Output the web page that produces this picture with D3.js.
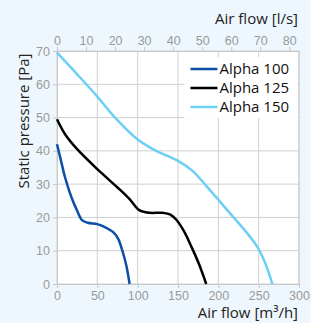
<!DOCTYPE html>
<html>
<head>
<meta charset="utf-8">
<script src="https://cdn.jsdelivr.net/npm/d3@7"></script>
<style>
  body { margin: 0; background: #eef7fd; }
  svg { display: block; font-family: "Open Sans", "Noto Sans", sans-serif; }
</style>
</head>
<body>
<div id="chart"></div>
<script>
// series names and colours
var seriesNames = ["Alpha 100", "Alpha 125", "Alpha 150"];
var seriesColors = ["#0d4ea6", "#000000", "#6dcff6"];

// [air flow m3/h, static pressure Pa]
var alpha100 = [[0,42],[5,37],[10,32],[18,26],[25,22],[31,19.2],[38,18.4],[50,18],[60,17],[70,15.5],[76,13.5],[81,10],[86,5.5],[90,0]];
var alpha125 = [[0,49.5],[10,45],[25,40.5],[50,34.5],[75,29],[90,25.5],[102,22.2],[115,21.4],[130,21.4],[141,20.8],[148,19.3],[157,16],[167,11],[176,6],[185,0]];
var alpha150 = [[0,69.5],[25,63],[50,56.3],[70,50.5],[100,43.4],[123,40],[150,37],[168,34],[185,29.5],[210,22.5],[250,10.5],[267,0]];

var xTicks = [0, 50, 100, 150, 200, 250, 300];
var xTopTicks = [0, 10, 20, 30, 40, 50, 60, 70, 80];
var yTicks = [0, 10, 20, 30, 40, 50, 60, 70];

var width = 311, height = 323;
var margin = {top: 51, right: 12, bottom: 39, left: 57};
var w = width - margin.left - margin.right,
    h = height - margin.top - margin.bottom;

var svg = d3.select("#chart").append("svg")
  .attr("width", width)
  .attr("height", height);

var g = svg.append("g")
  .attr("transform", "translate(" + margin.left + "," + margin.top + ")");

var x = d3.scaleLinear().domain([0, 300]).range([0, w]);
var xTop = d3.scaleLinear().domain([0, 300 / 3.6]).range([0, w]);
var y = d3.scaleLinear().domain([0, 70]).range([h, 0]);

// plot background
g.append("rect").attr("width", w).attr("height", h).attr("fill", "#fff");

// grid
g.append("g").selectAll("line").data(xTicks).join("line")
  .attr("x1", d => x(d)).attr("x2", d => x(d))
  .attr("y1", 0).attr("y2", h)
  .attr("stroke", "#d0d0d0");
g.append("g").selectAll("line").data(yTicks).join("line")
  .attr("x1", 0).attr("x2", w)
  .attr("y1", d => y(d)).attr("y2", d => y(d))
  .attr("stroke", "#d0d0d0");

// axes
function styleAxis(sel) {
  sel.select(".domain").attr("stroke", "#c8c8c8");
  sel.selectAll(".tick line").attr("stroke", "#c8c8c8");
  sel.selectAll(".tick text").attr("fill", "#9a9a9a").style("font-size", "12.5px");
}

g.append("g")
  .attr("transform", "translate(0," + h + ")")
  .call(d3.axisBottom(x).tickValues(xTicks).tickSize(4).tickSizeOuter(0).tickPadding(3))
  .call(styleAxis);

g.append("g")
  .call(d3.axisTop(xTop).tickValues(xTopTicks).tickSize(4).tickSizeOuter(0).tickPadding(2))
  .call(styleAxis);

g.append("g")
  .call(d3.axisLeft(y).tickValues(yTicks).tickSize(4).tickSizeOuter(0).tickPadding(3))
  .call(styleAxis);

g.append("line").attr("x1", w).attr("x2", w).attr("y1", 0).attr("y2", h).attr("stroke", "#c8c8c8");

// curves
var line = d3.line()
  .x(d => x(d[0]))
  .y(d => y(d[1]))
  .curve(d3.curveCatmullRom.alpha(0.5));

[alpha100, alpha125, alpha150].forEach(function(s, i) {
  g.append("path")
    .datum(s)
    .attr("d", line)
    .attr("fill", "none")
    .attr("stroke", seriesColors[i])
    .attr("stroke-width", 2.5);
});

// legend
var lg = g.append("g").attr("transform", "translate(" + (x(158)) + ",6)");
lg.append("rect").attr("width", 113).attr("height", 61).attr("fill", "#fff");
seriesNames.forEach(function(name, i) {
  var row = lg.append("g").attr("transform", "translate(0," + (12 + i * 19) + ")");
  row.append("line").attr("x1", 6).attr("x2", 33).attr("stroke", seriesColors[i]).attr("stroke-width", 2.5);
  row.append("text").attr("x", 35).attr("dy", "0.35em")
    .style("font-size", "15px").attr("fill", "#111").text(name);
});

// axis titles
svg.append("text").attr("x", 298).attr("y", 24).attr("text-anchor", "end")
  .style("font-size", "15px").attr("fill", "#222").text("Air flow [l/s]");
svg.append("text").attr("x", 298).attr("y", 318).attr("text-anchor", "end")
  .style("font-size", "15px").attr("fill", "#222").text("Air flow [m³/h]");
svg.append("text").attr("transform", "translate(29,121) rotate(-90)").attr("text-anchor", "middle")
  .style("font-size", "15px").attr("fill", "#222").text("Static pressure [Pa]");
</script>
</body>
</html>
